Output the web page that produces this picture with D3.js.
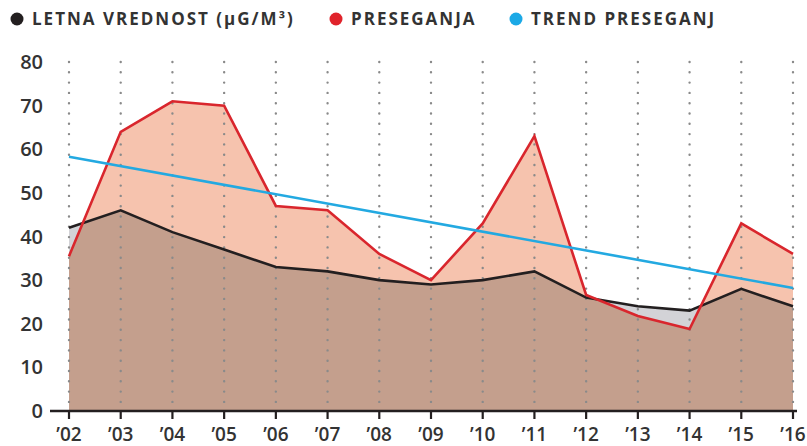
<!DOCTYPE html>
<html>
<head>
<meta charset="utf-8">
<script src="https://cdn.jsdelivr.net/npm/d3@7"></script>
<style>
  body { margin: 0; background: #fff; }
  svg { display: block; font-family: 'Open Sans', sans-serif; }
</style>
</head>
<body>
<div id="chart"></div>
<script>
// Data
const years = ['02', '03', '04', '05', '06', '07', '08', '09', '10', '11', '12', '13', '14', '15', '16']
const letnaVrednost = [42, 46, 41, 37, 33, 32, 30, 29, 30, 32, 26, 24, 23, 28, 24]
const preseganja = [35.5, 64, 71, 70, 47, 46, 36, 30, 43, 63, 26.6, 21.8, 18.8, 43, 36]
const trendYears = ['02', '16']
const trendValues = [58.3, 28.2]
const yTicks = [0, 10, 20, 30, 40, 50, 60, 70, 80]
const legendItems = [
  { label: 'LETNA VREDNOST (µG/M³)', color: '#231f20', x: 17 },
  { label: 'PRESEGANJA', color: '#e0232b', x: 336 },
  { label: 'TREND PRESEGANJ', color: '#1ba9e6', x: 516 }
]

const width = 807, height = 446
const svg = d3.select('#chart').append('svg').attr('width', width).attr('height', height)

const x = d3.scalePoint().domain(years).range([69, 793])
const y = d3.scaleLinear().domain([0, 80]).range([411, 62])

const defs = svg.append('defs')

const blackArea = d3.area().x((d, i) => x(years[i])).y0(y(0)).y1(d => y(d))
const redArea = d3.area().x((d, i) => x(years[i])).y0(y(0)).y1(d => y(d))

defs.append('clipPath').attr('id', 'redClip')
  .append('path').attr('d', redArea(preseganja))

// gray where the yearly value is above exceedances
svg.append('path').attr('d', blackArea(letnaVrednost)).attr('fill', '#d3d3d7')
// salmon under exceedances
svg.append('path').attr('d', redArea(preseganja)).attr('fill', '#f6c3ae')
// brown overlap
svg.append('path').attr('d', blackArea(letnaVrednost)).attr('fill', '#c49f8d')
  .attr('clip-path', 'url(#redClip)')

// dotted verticals
svg.append('g').selectAll('line').data(years).join('line')
  .attr('x1', d => x(d)).attr('x2', d => x(d))
  .attr('y1', y(80)).attr('y2', y(0))
  .attr('stroke', '#8a8a8a').attr('stroke-width', 2.4)
  .attr('stroke-linecap', 'round').attr('stroke-dasharray', '0 10.3')

const line = d3.line().x((d, i) => x(years[i])).y(d => y(d))

svg.append('path').attr('d', line(letnaVrednost))
  .attr('fill', 'none').attr('stroke', '#231f20').attr('stroke-width', 2.6)
svg.append('path').attr('d', line(preseganja))
  .attr('fill', 'none').attr('stroke', '#d9262d').attr('stroke-width', 2.6)
svg.append('path')
  .attr('d', d3.line().x((d, i) => x(trendYears[i])).y(d => y(d))(trendValues))
  .attr('fill', 'none').attr('stroke', '#23a9e1').attr('stroke-width', 2.6)

// x axis
const xAxis = svg.append('g').attr('transform', `translate(0,${y(0)})`)
xAxis.append('line').attr('x1', 50).attr('x2', 797)
  .attr('stroke', '#231f20').attr('stroke-width', 2.6)
xAxis.selectAll('.tick').data(years).join('line')
  .attr('x1', d => x(d)).attr('x2', d => x(d)).attr('y1', 0).attr('y2', 8)
  .attr('stroke', '#231f20').attr('stroke-width', 2.2)
xAxis.selectAll('text').data(years).join('text')
  .attr('x', d => x(d)).attr('y', 29.5)
  .attr('text-anchor', 'middle').attr('fill', '#333')
  .style('font-size', '19px').style('font-weight', '600')
  .text(d => '\u2019' + d)

// y labels
svg.append('g').selectAll('text').data(yTicks).join('text')
  .attr('x', 43).attr('y', d => y(d)).attr('dy', '0.35em')
  .attr('text-anchor', 'end').attr('fill', '#333')
  .style('font-size', '20px').style('font-weight', '600')
  .text(d => d)

// legend
const legend = svg.append('g').attr('transform', 'translate(0,19)')
legendItems.forEach(item => {
  legend.append('circle').attr('cx', item.x).attr('cy', 0).attr('r', 6.5).attr('fill', item.color)
  legend.append('text').attr('x', item.x + 15).attr('y', 0).attr('dy', '0.36em')
    .attr('fill', '#333').style('font-size', '17px').style('font-weight', '700')
    .style('letter-spacing', '2px').text(item.label)
})
</script>
</body>
</html>
